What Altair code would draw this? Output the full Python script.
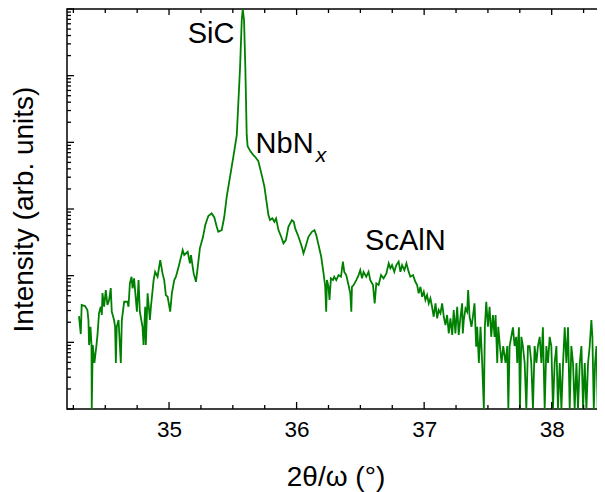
import altair as alt
import pandas as pd

# ---- data (2theta in degrees, intensity in arb. units) ----
two_theta = [
    34.294, 34.308, 34.315, 34.341, 34.360, 34.368, 34.373, 34.384, 34.392, 34.394,
    34.402, 34.415, 34.431, 34.439, 34.451, 34.465, 34.473, 34.478, 34.491, 34.504,
    34.517, 34.530, 34.543, 34.551, 34.569, 34.577, 34.583, 34.590, 34.604, 34.622,
    34.630, 34.648, 34.674, 34.682, 34.693, 34.706, 34.714, 34.726, 34.748, 34.761,
    34.771, 34.792, 34.800, 34.813, 34.818, 34.832, 34.850, 34.858, 34.879, 34.891,
    34.910, 34.931, 34.949, 34.962, 34.975, 34.989, 35.009, 35.022, 35.041, 35.054,
    35.075, 35.107, 35.119, 35.146, 35.164, 35.172, 35.193, 35.211, 35.224, 35.242,
    35.266, 35.284,
    35.308, 35.334, 35.355, 35.374, 35.386, 35.413, 35.433, 35.452, 35.478, 35.504,
    35.531, 35.557, 35.570, 35.578, 35.588, 35.598, 35.609, 35.616, 35.637, 35.661,
    35.675, 35.700, 35.727, 35.748, 35.766, 35.779, 35.792, 35.810, 35.826, 35.839,
    35.858, 35.879, 35.897, 35.916, 35.936, 35.963, 35.978, 35.989, 36.015, 36.041,
    36.054, 36.067, 36.093, 36.120, 36.140, 36.154, 36.172, 36.193, 36.211, 36.224,
    36.232, 36.238, 36.250, 36.258, 36.269, 36.285, 36.295, 36.311, 36.329, 36.348,
    36.363, 36.374, 36.389, 36.407, 36.421, 36.429, 36.434, 36.447, 36.468, 36.486,
    36.499, 36.513, 36.525, 36.546, 36.564, 36.578, 36.599, 36.612, 36.625, 36.643,
    36.662, 36.682, 36.704, 36.722, 36.735, 36.748, 36.766, 36.782, 36.800, 36.814,
    36.827, 36.845, 36.861, 36.879, 36.892, 36.913, 36.931, 36.945, 36.957, 36.971,
    36.984, 36.997, 37.010, 37.023, 37.036, 37.049, 37.062, 37.075, 37.089, 37.102,
    37.114, 37.128, 37.141, 37.154, 37.167, 37.180, 37.193, 37.206, 37.220, 37.232,
    37.245, 37.259, 37.271, 37.285,
    37.298, 37.303, 37.311, 37.324, 37.337, 37.345, 37.356, 37.371, 37.382, 37.395,
    37.408, 37.416, 37.429, 37.442, 37.455, 37.468, 37.476, 37.487, 37.500, 37.513,
    37.526, 37.539, 37.552, 37.560, 37.573, 37.581, 37.594, 37.607, 37.620, 37.638,
    37.652, 37.660, 37.670, 37.683, 37.696, 37.709, 37.722, 37.730, 37.743, 37.751,
    37.762, 37.774, 37.788, 37.801, 37.814, 37.827, 37.840, 37.853, 37.866, 37.880,
    37.892, 37.906, 37.919, 37.931, 37.945, 37.958, 37.971, 37.984, 37.997, 38.010,
    38.023, 38.037, 38.049, 38.063, 38.076, 38.089, 38.102, 38.115, 38.128, 38.141,
    38.154, 38.167, 38.180, 38.194, 38.206, 38.220, 38.233, 38.246, 38.259, 38.272,
    38.285, 38.298, 38.311, 38.319, 38.330, 38.340, 38.351, 38.361, 38.371, 38.382,
    38.393, 38.403, 38.414,
]

intensity = [
    24.8, 13.3, 36.3, 35.0, 30.5, 21.6, 9.1, 17.1, 9.1, 1,
    9.1, 4.9, 9.1, 12.9, 27.5, 34.2, 25.7, 54.8, 34.2, 60.8,
    36.3, 43.1, 65.2, 28.8, 21.6, 17.1, 4.9, 17.1, 21.6, 4.9,
    21.6, 40.6, 40.6, 34.2, 76.7, 96.3, 64.5, 91.2, 28.8, 85.9,
    28.8, 17.1, 9.1, 34.2, 9.1, 54.3, 21.6, 34.2, 85.9, 114,
    96.3, 171, 108, 85.9, 51.2, 48.3, 28.8, 54.3, 85.9, 96.3,
    136, 242, 204, 228, 153, 204, 108, 81, 130, 259,
    379, 574,
    783, 859, 748, 541, 455, 483, 764, 1524, 3040, 6070,
    12800, 136000, 679000, 1000000, 679000, 136000, 12800, 8770, 7380, 6430,
    6070, 5230, 3220, 2150, 1213, 811, 682, 723, 643, 723,
    483, 383, 305, 342, 541, 682, 643, 512, 383, 271,
    216, 257, 383, 455, 483, 406, 288, 192, 109, 70,
    28.8, 85.9, 68.1, 43.1, 91.2, 85.9, 96.3, 85.9, 102, 96.3,
    162, 114, 102, 72.3, 54.3, 28.8, 68.1, 72.3, 85.9, 102,
    121, 91.2, 114, 96.3, 114, 85.9, 72.3, 38.4, 76.7, 72.3,
    102, 91.2, 108, 153, 129, 144, 114, 144, 162, 114,
    144, 121, 153, 114, 96.3, 102, 81, 72.3, 54.3, 68.1,
    48.3, 57.4, 43.1, 51.2, 38.4, 45.7, 34.2, 24.2, 38.4, 22.9,
    30.5, 27.2, 38.4, 24.2, 18.2, 25.7, 13.6, 22.9, 12.9, 30.5,
    13.6, 34.2, 12.9, 24.2,
    38.4, 13.6, 21.6, 32.3, 28.8, 60.8, 24.2, 17.1, 24.2, 38.4,
    8.6, 17.1, 4.9, 17.1, 4.9, 1, 17.1, 40.6, 17.1, 34.2,
    12.1, 25.7, 12.1, 25.7, 4.9, 17.1, 8.8, 4.9, 8.8, 4.9,
    8.8, 1, 8.8, 12.1, 16.8, 8.8, 12.1, 4.9, 16.8, 1,
    12.1, 8.8, 4.9, 1, 8.8, 8.8, 4.9, 1, 8.8, 4.9,
    8.8, 12.1, 4.9, 16.8, 1, 8.8, 4.9, 12.1, 8.8, 1,
    4.9, 8.8, 1, 4.9, 1, 4.9, 16.8, 4.9, 16.8, 1,
    8.8, 4.9, 1, 4.9, 1, 4.9, 8.8, 1, 4.9, 1,
    4.9, 8.8, 21.6, 12.1, 1, 4.9, 8.8, 1, 4.9, 8.8,
    1, 8.8, 1,
]

# tick values and labels
x_major = [35, 36, 37, 38]
x_minor = [34.25, 34.5, 34.75, 35.25, 35.5, 35.75, 36.25, 36.5, 36.75,
           37.25, 37.5, 37.75, 38.25]
y_major = [1, 10, 100, 1000, 10000, 100000, 1000000]
y_minor = [k * d for d in [1, 10, 100, 1000, 10000, 100000] for k in range(2, 10)]

# peak annotations
label_text = ["SiC", "NbN", "ScAlN"]
label_x = [35.330, 35.906, 36.853]
label_y = [307000, 6890, 242]
sub_text = ["x"]
sub_x = [36.150]
sub_y = [5050]

W, H = 537, 400
FONT = "Liberation Sans"
xs = alt.Scale(domain=[34.2, 38.41], nice=False, zero=False)
ys = alt.Scale(type="log", domain=[1, 1000000], nice=False)

df = pd.DataFrame({"tt": two_theta, "I": intensity})

line = alt.Chart(df).mark_line(color="#008000", strokeWidth=1.8, clip=True).encode(
    x=alt.X("tt:Q", scale=xs,
            axis=alt.Axis(title="2θ/ω (°)", values=x_major, format="d",
                          labelFontSize=22.5, titleFontSize=28,
                          labelPadding=9, titlePadding=23)),
    y=alt.Y("I:Q", scale=ys,
            axis=alt.Axis(title="Intensity (arb. units)", labels=False,
                          titleFontSize=28, titlePadding=29)),
)


def xtick_layer(vals, length, top):
    d = pd.DataFrame({"v": vals})
    if top:
        yy, yy2 = alt.value(0), alt.value(length)
    else:
        yy, yy2 = alt.value(H), alt.value(H - length)
    return alt.Chart(d).mark_rule(color="black", strokeWidth=1.3).encode(
        x=alt.X("v:Q", scale=xs), y=yy, y2=yy2)


def ytick_layer(vals, length, right):
    d = pd.DataFrame({"v": vals})
    if right:
        xx, xx2 = alt.value(W), alt.value(W - length)
    else:
        xx, xx2 = alt.value(0), alt.value(length)
    return alt.Chart(d).mark_rule(color="black", strokeWidth=1.3).encode(
        y=alt.Y("v:Q", scale=ys), x=xx, x2=xx2)


ticks = [
    xtick_layer(x_major, 7, False), xtick_layer(x_minor, 4, False),
    xtick_layer(x_major, 6, True), xtick_layer(x_minor, 4, True),
    ytick_layer(y_major, 7, False), ytick_layer(y_minor, 4, False),
    ytick_layer(y_major, 6, True), ytick_layer(y_minor, 4, True),
]

labels_df = pd.DataFrame({"t": label_text, "x": label_x, "y": label_y})
labels = alt.Chart(labels_df).mark_text(
    font=FONT, fontSize=29, align="center", baseline="alphabetic", color="black"
).encode(x=alt.X("x:Q", scale=xs), y=alt.Y("y:Q", scale=ys), text="t:N")

sub_df = pd.DataFrame({"t": sub_text, "x": sub_x, "y": sub_y})
sub = alt.Chart(sub_df).mark_text(
    font=FONT, fontSize=21, fontStyle="italic", align="left", baseline="alphabetic", color="black"
).encode(x=alt.X("x:Q", scale=xs), y=alt.Y("y:Q", scale=ys), text="t:N")

chart = alt.layer(line, *ticks, labels, sub).properties(
    width=W, height=H,
    padding={"left": 59, "top": 1, "right": -7, "bottom": 86},
    autosize=alt.AutoSizeParams(type="none"),
).configure_view(
    stroke="black", strokeWidth=1.5
).configure_axis(
    labelFont=FONT, titleFont=FONT, labelColor="black", titleColor="black",
    titleFontWeight="normal", grid=False, ticks=False, domain=False
)

chart.save("out.html", embed_options={"renderer": "svg", "actions": False})
